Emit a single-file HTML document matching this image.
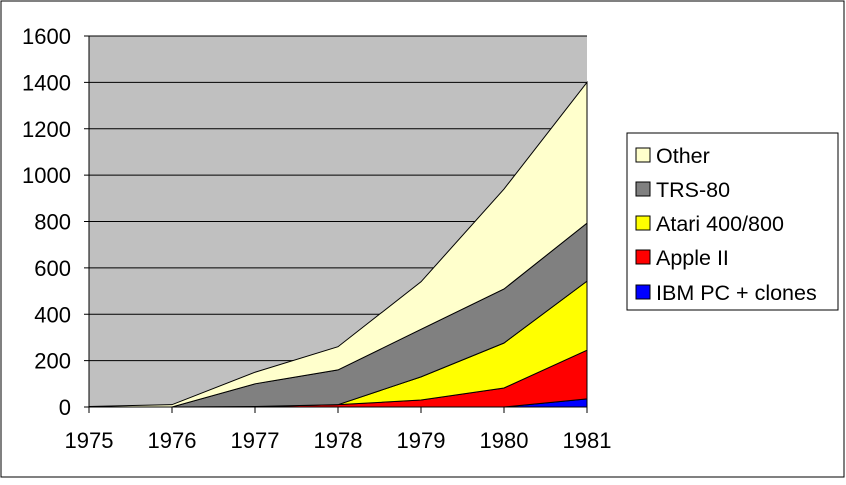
<!DOCTYPE html>
<html><head><meta charset="utf-8"><style>
body{margin:0;background:#fff;}
svg text{font-family:"Liberation Sans",Arial,sans-serif;fill:#000;}
</style></head><body>
<svg width="846" height="480" xmlns="http://www.w3.org/2000/svg">
<rect x="1" y="1" width="843" height="476" fill="#fff" stroke="#000"/>
<rect x="89" y="36" width="498" height="371" fill="#c0c0c0"/>
<g id="grid"></g><g id="areas"></g><g id="axes"></g>
<g>
<rect x="627" y="133" width="211" height="177" fill="#fff" stroke="#000"/>
<g id="legend"></g>
</g>
</svg>
<script>
const years=[1975,1976,1977,1978,1979,1980,1981];
const ibm=[0,0,0,0,0,0,35];
const apple=[0,0,2,10,30,82,210];
const atari=[0,0,0,0,100,194,298];
const trs=[0,0,98,150,205,233,250];
const other=[2,10,50,100,205,431,607];
const yTicks=[0,200,400,600,800,1000,1200,1400,1600];
const seriesNames=["IBM PC + clones","Apple II","Atari 400/800","TRS-80","Other"];
const seriesColors=["#0000ff","#ff0000","#ffff00","#808080","#ffffcc"];
const NS="http://www.w3.org/2000/svg";
const X=y=>89+(y-1975)*83, Y=v=>407-v*371/1600;
function mk(t,a,p){const e=document.createElementNS(NS,t);for(const k in a)e.setAttribute(k,a[k]);p.appendChild(e);return e;}
const grid=document.getElementById('grid'),axes=document.getElementById('axes'),areas=document.getElementById('areas'),leg=document.getElementById('legend');
yTicks.forEach(v=>{
 if(v>0){const l=mk('line',{x1:89,x2:587,y1:Y(v),y2:Y(v),stroke:'#000'},grid);
 
 }
 const t=mk('text',{x:71,y:Y(v)+8,'text-anchor':'end','font-size':22},axes);t.textContent=v;
 
 
 mk('line',{x1:84,x2:89,y1:Y(v),y2:Y(v),stroke:'#000'},axes);
});
const series=[ibm,apple,atari,trs,other];
let base=years.map(()=>0);
series.forEach((s,i)=>{
 const top=base.map((b,j)=>b+s[j]);
 let d='M'+years.map((y,j)=>X(y)+','+Y(top[j])).join(' L');
 for(let j=years.length-1;j>=0;j--)d+=' L'+X(years[j])+','+Y(base[j]);
 const p=mk('path',{d:d+'Z',fill:seriesColors[i],stroke:'#000','stroke-width':1},areas);
 
 
 base=top;
});
mk('line',{x1:89,x2:89,y1:36,y2:407,stroke:'#000'},axes);
mk('line',{x1:89,x2:587,y1:407,y2:407,stroke:'#000'},axes);
years.forEach(y=>{
 mk('line',{x1:X(y),x2:X(y),y1:407,y2:413,stroke:'#000'},axes);
 const t=mk('text',{x:X(y),y:448,'text-anchor':'middle','font-size':22},axes);t.textContent=y;
 
 
});
const ly=[155,189,223,257,292];
for(let k=0;k<5;k++){
 const i=4-k;
 const g=mk('g',{},leg);
 
 
 mk('rect',{x:636,y:ly[k]-7,width:14,height:14,fill:seriesColors[i],stroke:'#000'},g);
 const t=mk('text',{x:656,y:ly[k]+8,'font-size':21.5},g);t.textContent=seriesNames[i];
}
</script>
</body></html>
